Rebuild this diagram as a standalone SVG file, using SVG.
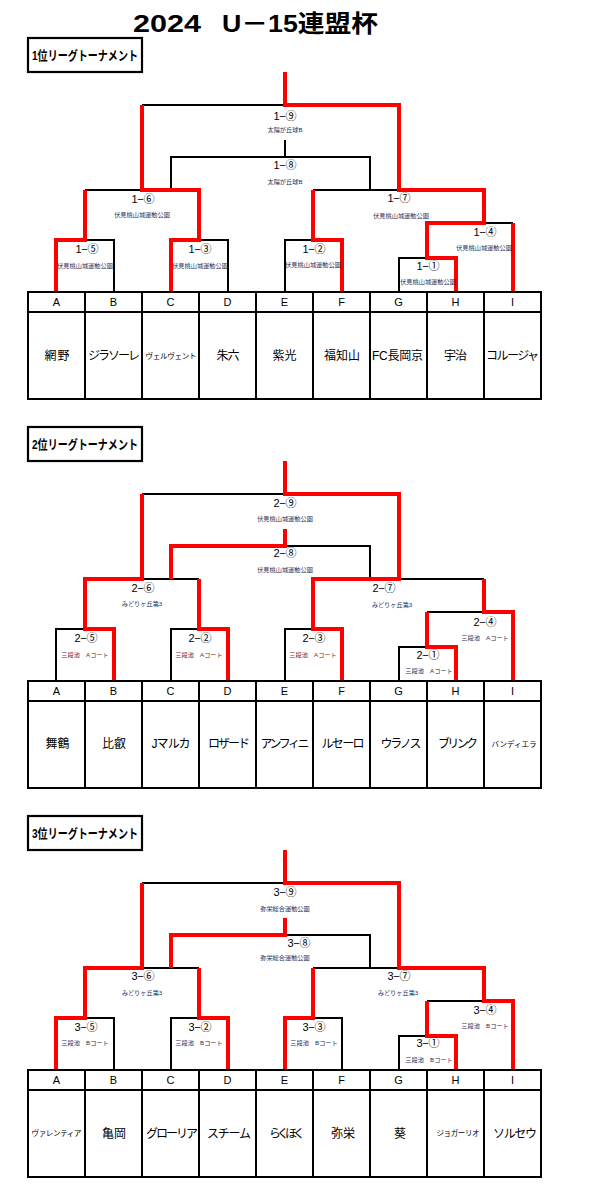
<svg xmlns="http://www.w3.org/2000/svg" width="593" height="1195" viewBox="0 0 593 1195">
<defs>
<style>
text{font-family:"Liberation Sans","Noto Sans CJK JP",sans-serif;fill:#000}
.k{stroke:#000;stroke-width:2;fill:none}
.r{stroke:#f00;stroke-width:4;fill:none;stroke-linejoin:miter}
.box{stroke:#000;stroke-width:2.2;fill:#fff}
.hl{font-size:13px;font-weight:bold}
.ml{font-size:11px;text-anchor:middle}
.v{font-size:6.2px;text-anchor:middle;fill:#1f2d55}
.vr{font-size:6.2px;text-anchor:middle;fill:#7a1c1c}
.hd{font-size:11px;text-anchor:middle}
.tm{font-size:12px;text-anchor:middle}
.ts{font-size:7.5px;text-anchor:middle}
</style>
</defs>
<rect width="593" height="1195" fill="#fff"/>
<g id="title">
<text x="133" y="32" font-size="24" font-weight="bold" textLength="68" lengthAdjust="spacingAndGlyphs">2024</text>
<text x="222" y="32" font-size="24" font-weight="bold" textLength="156" lengthAdjust="spacingAndGlyphs">U－15連盟杯</text>
</g>

<!-- ================= Bracket 1 ================= -->
<g id="bracket1">
<g id="b1-heading"><rect class="box" x="28" y="38" width="114" height="34"/><text class="hl" x="32" y="60" textLength="106" lengthAdjust="spacingAndGlyphs">1位リーグトーナメント</text></g>
<g id="b1-connectors">
<path class="k" d="M142,105H285 M285,140V157 M171,190V157H370V190 M85,190H142 M85,240H114V292 M199,240H228V292 M285,292V240H313 M313,190H399 M484,223H513 M399,292V258H427"/>
<path class="r" d="M285,72V105H399V190H484V223H427V258H456V292 M513,223V292 M142,105V190H199V240H171V292 M85,190V240H56V292 M313,190V240H342V292"/>
</g>
<g id="b1-m9"><text class="ml" x="285" y="120" textLength="23">1−⑨</text><text class="v" x="285" y="132">太陽が丘球B</text></g>
<g id="b1-m8"><text class="ml" x="285" y="169" textLength="23">1−⑧</text><text class="v" x="285" y="184">太陽が丘球B</text></g>
<g id="b1-m6"><text class="ml" x="143" y="203" textLength="23">1−⑥</text><text class="v" x="142" y="217">伏見桃山城運動公園</text></g>
<g id="b1-m5"><text class="ml" x="87" y="253" textLength="23">1−⑤</text><text class="v" x="85" y="268">伏見桃山城運動公園</text></g>
<g id="b1-m3"><text class="ml" x="200" y="253" textLength="23">1−③</text><text class="v" x="200" y="268">伏見桃山城運動公園</text></g>
<g id="b1-m2"><text class="ml" x="314" y="253" textLength="23">1−②</text><text class="v" x="313" y="267">伏見桃山城運動公園</text></g>
<g id="b1-m7"><text class="ml" x="399" y="202" textLength="23">1−⑦</text><text class="v" x="401" y="218">伏見桃山城運動公園</text></g>
<g id="b1-m4"><text class="ml" x="485" y="236" textLength="23">1−④</text><text class="v" x="484" y="250">伏見桃山城運動公園</text></g>
<g id="b1-m1"><text class="ml" x="428" y="270" textLength="23">1−①</text><text class="v" x="428" y="284">伏見桃山城運動公園</text></g>
<g id="b1-table">
<rect class="k" x="28" y="292" width="513" height="107"/>
<path class="k" d="M28,312H541 M85,292V399 M142,292V399 M199,292V399 M256,292V399 M313,292V399 M370,292V399 M427,292V399 M484,292V399"/>
<g id="b1-A"><text class="hd" x="56.5" y="306">A</text><text class="tm" x="57" y="360" textLength="25">網野</text></g>
<g id="b1-B"><text class="hd" x="113.5" y="306">B</text><text class="tm" x="114" y="360" textLength="52">ジラソーレ</text></g>
<g id="b1-C"><text class="hd" x="170.5" y="306">C</text><text class="ts" x="171" y="359" textLength="51">ヴェルヴェント</text></g>
<g id="b1-D"><text class="hd" x="227.5" y="306">D</text><text class="tm" x="228" y="360" textLength="23">朱六</text></g>
<g id="b1-E"><text class="hd" x="284.5" y="306">E</text><text class="tm" x="284.5" y="360" textLength="24">紫光</text></g>
<g id="b1-F"><text class="hd" x="341.5" y="306">F</text><text class="tm" x="342" y="360" textLength="36">福知山</text></g>
<g id="b1-G"><text class="hd" x="398.5" y="306">G</text><text class="tm" x="397.5" y="360" textLength="51">FC長岡京</text></g>
<g id="b1-H"><text class="hd" x="455.5" y="306">H</text><text class="tm" x="455.5" y="360" textLength="23">宇治</text></g>
<g id="b1-I"><text class="hd" x="512.5" y="306">I</text><text class="tm" x="512.5" y="360" textLength="53">コルージャ</text></g>
</g>
</g>

<!-- ================= Bracket 2 ================= -->
<g id="bracket2" transform="translate(0,389)">
<g id="b2-heading"><rect class="box" x="28" y="38" width="114" height="34"/><text class="hl" x="32" y="60" textLength="106" lengthAdjust="spacingAndGlyphs">2位リーグトーナメント</text></g>
<g id="b2-connectors">
<path class="k" d="M142,105H285 M285,157H370V190 M142,190H199 M56,292V240H85 M171,292V240H199 M285,292V240H313 M399,190H484 M427,223H484 M399,292V258H427"/>
<path class="r" d="M285,72V105H399V190H313V240H342V292 M142,105V190H85V240H114V292 M285,140V157H171V190 M199,190V240H228V292 M484,190V223H513V292 M427,223V258H456V292"/>
</g>
<g id="b2-m9"><text class="ml" x="285" y="118" textLength="23">2−⑨</text><text class="v" x="285" y="132">伏見桃山城運動公園</text></g>
<g id="b2-m8"><text class="ml" x="285" y="168" textLength="23">2−⑧</text><text class="v" x="285" y="183">伏見桃山城運動公園</text></g>
<g id="b2-m6"><text class="ml" x="143" y="203" textLength="23">2−⑥</text><text class="v" x="142" y="217">みどりヶ丘第3</text></g>
<g id="b2-m5"><text class="ml" x="86" y="253" textLength="23">2−⑤</text><text class="vr" x="85" y="268">三段池　Aコート</text></g>
<g id="b2-m2"><text class="ml" x="200" y="253" textLength="23">2−②</text><text class="vr" x="199" y="268">三段池　Aコート</text></g>
<g id="b2-m3"><text class="ml" x="314" y="253" textLength="23">2−③</text><text class="vr" x="313" y="268">三段池　Aコート</text></g>
<g id="b2-m7"><text class="ml" x="384" y="203" textLength="23">2−⑦</text><text class="v" x="392" y="218">みどりヶ丘第3</text></g>
<g id="b2-m4"><text class="ml" x="485" y="237" textLength="23">2−④</text><text class="v" x="485" y="251">三段池　Aコート</text></g>
<g id="b2-m1"><text class="ml" x="428" y="270" textLength="23">2−①</text><text class="v" x="429" y="284">三段池　Aコート</text></g>
<g id="b2-table">
<rect class="k" x="28" y="292" width="513" height="107"/>
<path class="k" d="M28,312H541 M85,292V399 M142,292V399 M199,292V399 M256,292V399 M313,292V399 M370,292V399 M427,292V399 M484,292V399"/>
<g id="b2-A"><text class="hd" x="56.5" y="306">A</text><text class="tm" x="57.5" y="359" textLength="24">舞鶴</text></g>
<g id="b2-B"><text class="hd" x="113.5" y="306">B</text><text class="tm" x="114" y="359" textLength="24">比叡</text></g>
<g id="b2-C"><text class="hd" x="170.5" y="306">C</text><text class="tm" x="171" y="359" textLength="39">Jマルカ</text></g>
<g id="b2-D"><text class="hd" x="227.5" y="306">D</text><text class="tm" x="229" y="359" textLength="42">ロザード</text></g>
<g id="b2-E"><text class="hd" x="284.5" y="306">E</text><text class="tm" x="285" y="359" textLength="49">アンフィニ</text></g>
<g id="b2-F"><text class="hd" x="341.5" y="306">F</text><text class="tm" x="343" y="359" textLength="43">ルセーロ</text></g>
<g id="b2-G"><text class="hd" x="398.5" y="306">G</text><text class="tm" x="401" y="359" textLength="41">ウラノス</text></g>
<g id="b2-H"><text class="hd" x="455.5" y="306">H</text><text class="tm" x="458" y="359" textLength="40">ブリンク</text></g>
<g id="b2-I"><text class="hd" x="512.5" y="306">I</text><text class="ts" x="514" y="358" textLength="45">バンディエラ</text></g>
</g>
</g>

<!-- ================= Bracket 3 ================= -->
<g id="bracket3" transform="translate(0,778)">
<g id="b3-heading"><rect class="box" x="28" y="38" width="114" height="34"/><text class="hl" x="32" y="60" textLength="106" lengthAdjust="spacingAndGlyphs">3位リーグトーナメント</text></g>
<g id="b3-connectors">
<path class="k" d="M142,105H285 M285,157H370V190 M142,190H199 M85,240H114V292 M171,292V240H199 M313,240H342V292 M313,190H399 M427,223H484 M399,292V258H427"/>
<path class="r" d="M285,72V105H399V190H484V223H513V292 M142,105V190H85V240H56V292 M285,140V157H171V190 M199,190V240H228V292 M313,190V240H285V292 M427,223V258H456V292"/>
</g>
<g id="b3-m9"><text class="ml" x="285" y="118" textLength="23">3−⑨</text><text class="v" x="285" y="133">弥栄総合運動公園</text></g>
<g id="b3-m8"><text class="ml" x="299" y="169" textLength="23">3−⑧</text><text class="v" x="285" y="182">弥栄総合運動公園</text></g>
<g id="b3-m6"><text class="ml" x="143" y="202" textLength="23">3−⑥</text><text class="v" x="142" y="217">みどりヶ丘第3</text></g>
<g id="b3-m5"><text class="ml" x="86" y="253" textLength="23">3−⑤</text><text class="v" x="85" y="267">三段池　Bコート</text></g>
<g id="b3-m2"><text class="ml" x="200" y="253" textLength="23">3−②</text><text class="v" x="199" y="267">三段池　Bコート</text></g>
<g id="b3-m3"><text class="ml" x="314" y="253" textLength="23">3−③</text><text class="v" x="314" y="267">三段池　Bコート</text></g>
<g id="b3-m7"><text class="ml" x="399" y="202" textLength="23">3−⑦</text><text class="v" x="398" y="217">みどりヶ丘第3</text></g>
<g id="b3-m4"><text class="ml" x="485" y="236" textLength="23">3−④</text><text class="v" x="485" y="250">三段池　Bコート</text></g>
<g id="b3-m1"><text class="ml" x="428" y="269" textLength="23">3−①</text><text class="v" x="429" y="284">三段池　Bコート</text></g>
<g id="b3-table">
<rect class="k" x="28" y="292" width="513" height="107"/>
<path class="k" d="M28,312H541 M85,292V399 M142,292V399 M199,292V399 M256,292V399 M313,292V399 M370,292V399 M427,292V399 M484,292V399"/>
<g id="b3-A"><text class="hd" x="56.5" y="306">A</text><text class="ts" x="56.5" y="358" textLength="50">ヴァレンティア</text></g>
<g id="b3-B"><text class="hd" x="113.5" y="306">B</text><text class="tm" x="114" y="360" textLength="24">亀岡</text></g>
<g id="b3-C"><text class="hd" x="170.5" y="306">C</text><text class="tm" x="172" y="360" textLength="52">グローリア</text></g>
<g id="b3-D"><text class="hd" x="227.5" y="306">D</text><text class="tm" x="229" y="360" textLength="44">スチーム</text></g>
<g id="b3-E"><text class="hd" x="284.5" y="306">E</text><text class="tm" x="287" y="360" textLength="36">らくほく</text></g>
<g id="b3-F"><text class="hd" x="341.5" y="306">F</text><text class="tm" x="343" y="360" textLength="24">弥栄</text></g>
<g id="b3-G"><text class="hd" x="398.5" y="306">G</text><text class="tm" x="400" y="360">葵</text></g>
<g id="b3-H"><text class="hd" x="455.5" y="306">H</text><text class="ts" x="458" y="358" textLength="43">ジョガーリオ</text></g>
<g id="b3-I"><text class="hd" x="512.5" y="306">I</text><text class="tm" x="515" y="360" textLength="44">ソルセウ</text></g>
</g>
</g>
</svg>
